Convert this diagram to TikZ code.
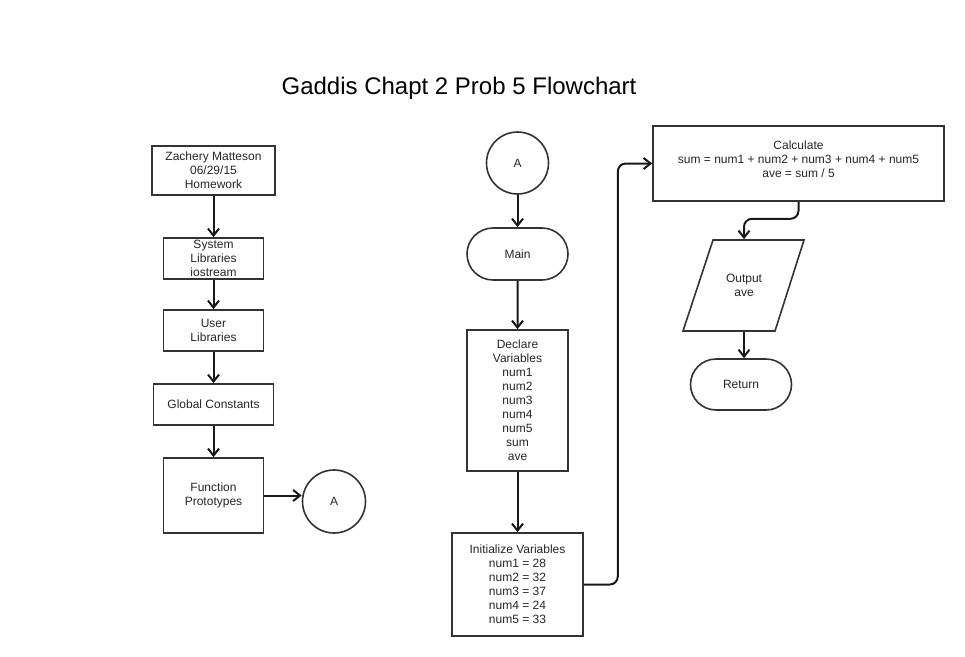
\documentclass[tikz,border=0pt]{standalone}
\usepackage{fontspec}
\setmainfont{Liberation Sans}
\usetikzlibrary{arrows.meta,shapes.misc}

\begin{document}
\begin{tikzpicture}[x=1pt,y=-1pt,
  >={Straight Barb[length=7pt,width=11pt]},
  proc/.style={draw=black!80,line width=1.6pt,align=center,text=black!85,font=\fontsize{12}{14}\selectfont,inner sep=0pt},
  term/.style={proc,rounded rectangle},
  conn/.style={proc,circle},
  flow/.style={->,line width=2pt,black!90,rounded corners=8}]
\useasboundingbox (0,0) rectangle (965,656);

\node at (459,88) {\fontsize{24}{28}\selectfont Gaddis Chapt 2 Prob 5 Flowchart};

\node[proc,minimum width=123,minimum height=49] (hdr) at (213.5,170.5) {Zachery Matteson\\06/29/15\\Homework};
\node[proc,minimum width=100,minimum height=41] (syslib) at (213.5,258.5) {System\\Libraries\\iostream};
\node[proc,minimum width=100,minimum height=41] (usrlib) at (213.5,330.5) {User\\Libraries};
\node[proc,minimum width=120,minimum height=41] (glob) at (213.5,404.5) {Global Constants};
\node[proc,minimum width=100,minimum height=75] (proto) at (213.5,495.5) {Function\\Prototypes};
\node[conn,minimum size=63] (conA) at (334,501.5) {A};

\draw[flow] (hdr) -- (syslib);
\draw[flow] (syslib) -- (usrlib);
\draw[flow] (usrlib) -- (glob);
\draw[flow] (glob) -- (proto);
\draw[flow] (proto.east) -- (proto.east -| conA.west);

\node[conn,minimum size=62] (conB) at (517.5,163) {A};
\node[term,minimum width=101,minimum height=52] (main) at (517.5,254) {Main};
\node[proc,minimum width=101,minimum height=141] (decl) at (517.5,400.5) {Declare\\Variables\\num1\\num2\\num3\\num4\\num5\\sum\\ave};
\node[proc,minimum width=131,minimum height=103] (init) at (517.5,584.5) {Initialize Variables\\num1 = 28\\num2 = 32\\num3 = 37\\num4 = 24\\num5 = 33};

\draw[flow] (conB) -- (main);
\draw[flow] (main) -- (decl);
\draw[flow] (decl) -- (init);

\node[proc,minimum width=291,minimum height=75] (calc) at (798.5,163.5) {Calculate\\sum = num1 + num2 + num3 + num4 + num5\\ave = sum / 5\\[-5pt]\mbox{}};
\node[proc,draw=none,minimum width=92,minimum height=91] (outp) at (744,285.5) {Output\\ave};
\draw[draw=black!80,line width=1.6pt] (713,240) -- (804,240) -- (775,331) -- (683,331) -- cycle;
\node[term,minimum width=101,minimum height=51] (ret) at (741,384.5) {Return};

\draw[flow] (init.east) -- ++(34,0) |- (calc.west);
\draw[flow] (calc.south) -- ++(0,17) -| (outp.north);
\draw[flow] (outp.south) -- (outp.south |- ret.north);

\end{tikzpicture}
\end{document}
